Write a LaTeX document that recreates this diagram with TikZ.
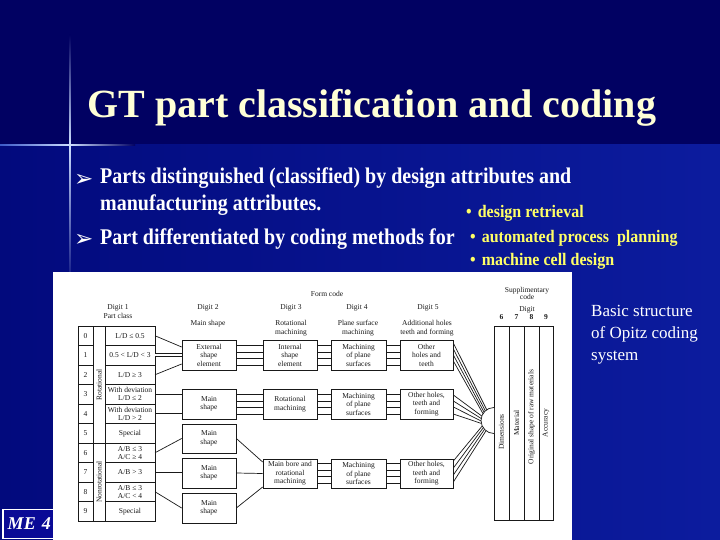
\documentclass[tikz,border=0pt]{standalone}
\usepackage{fontspec}
\setmainfont{Liberation Serif}
\newfontfamily\dejavu{DejaVu Sans}
\usetikzlibrary{calc}
\definecolor{bgtop}{RGB}{1,1,98}
\definecolor{bglowL}{RGB}{2,10,125}
\definecolor{bglowR}{RGB}{12,28,158}
\definecolor{cream}{RGB}{255,255,214}
\definecolor{ylw}{RGB}{255,255,102}
\definecolor{glow}{RGB}{205,222,255}
\definecolor{glowL}{RGB}{60,90,200}
\definecolor{ink}{RGB}{25,25,25}
\definecolor{mebox}{RGB}{10,10,150}
\tikzset{
 fig/.style={font=\fontsize{7.5}{8.5}\selectfont, text=ink, align=center, inner sep=0pt},
 fbox/.style={fig, draw=ink, line width=0.7pt, fill=white},
 ln/.style={draw=ink, line width=0.7pt},
 btext/.style={anchor=base west, text=white, font=\bfseries\fontsize{20}{24}\selectfont, inner sep=0pt},
 ytext/.style={anchor=base west, text=ylw, font=\bfseries\fontsize{16}{19}\selectfont, inner sep=0pt},
 ctext/.style={anchor=base west, text=white, font=\fontsize{17}{20}\selectfont, inner sep=0pt},
 arr/.style={anchor=base west, text=white, font=\dejavu\fontsize{23}{26}\selectfont, inner sep=0pt},
}
\newcommand\mconn[2]{\foreach \dy in {-10,-3,3,10}{\draw[ln] ($(#1.east)+(0,\dy)$) -- ($(#2.west)+(0,\dy)$);}}
\begin{document}
\begin{tikzpicture}[x=1pt,y=-1pt]
\useasboundingbox (0,0) rectangle (720,540);
% background
\fill[bgtop] (0,0) rectangle (720,145);
\shade[left color=bglowL, right color=bglowR] (0,145) rectangle (720,540);
\shade[top color=bgtop, bottom color=glow] (69.3,35) rectangle (70.7,145);
\shade[top color=glow, bottom color=bglowL] (69.3,145) rectangle (70.7,290);
\shade[left color=glowL, right color=glow] (0,144.3) rectangle (70,145.7);
\shade[left color=glow, right color=bgtop] (70,144.3) rectangle (135,145.7);
% title
\node[anchor=base west, text=cream, font=\bfseries\fontsize{40}{48}\selectfont, inner sep=0pt] (title) at (87,118) {GT part classification and coding};
% bullets
\node[arr] (a1) at (74,187) {➢};
\node[btext] (l1) at (100,184) {\scalebox{1}[1.12]{Parts distinguished (classified) by design attributes and}};
\node[btext] (l2) at (100,211) {\scalebox{1}[1.12]{manufacturing attributes.}};
\node[arr] (a2) at (74,247) {➢};
\node[btext] (l3) at (100,244) {\scalebox{1}[1.12]{Part differentiated by coding methods for}};
\node[ytext] (y1) at (466,218) {\scalebox{1}[1.1]{•\hspace{6pt}design retrieval}};
\node[ytext] (y2) at (470,242) {\scalebox{1}[1.1]{•\hspace{6pt}automated process\ \ planning}};
\node[ytext] (y3) at (470,265) {\scalebox{1}[1.1]{•\hspace{6pt}machine cell design}};
% caption
\node[ctext] (c1) at (591,316) {Basic structure};
\node[ctext] (c2) at (591,338) {of Opitz coding};
\node[ctext] (c3) at (591,360) {system};
% ME box
\node[draw=white, line width=1.5pt, fill=mebox, text=white, font=\bfseries\itshape\fontsize{18}{20}\selectfont, anchor=west, minimum height=29, text width=70, align=left, inner sep=5pt] (me) at (2,524) {ME 4};
% figure panel
\fill[white] (53,272) rectangle (572,541);
% headings
\node[fig] (fc) at (327,294) {Form code};
\node[fig] (d1) at (118,311.5) {Digit 1\\Part class};
\node[fig] (d2) at (208,308) {Digit 2};
\node[fig] (h2) at (208,324) {Main shape};
\node[fig] (d3) at (291,308) {Digit 3};
\node[fig] (h3) at (291,328) {Rotational\\machining};
\node[fig] (d4) at (357,308) {Digit 4};
\node[fig] (h4) at (358,328) {Plane surface\\machining};
\node[fig] (d5) at (428,308) {Digit 5};
\node[fig] (h5) at (427,328) {Additional holes\\teeth and forming};
% part class table
\draw[ln] (78,326) rectangle (155,521);
\draw[ln] (93,326) -- (93,521) (105,326) -- (105,521) (93,443) -- (105,443);
\foreach \i in {1,...,9}{
  \draw[ln] (78,326+19.5*\i) -- (93,326+19.5*\i) (105,326+19.5*\i) -- (155,326+19.5*\i);
}
\foreach \t [count=\j from 0] in {{L/D ≤ 0.5},{0.5 < L/D < 3},{L/D ≥ 3},{With deviation\\L/D ≤ 2},{With deviation\\L/D > 2},{Special},{A/B ≤ 3\\A/C ≥ 4},{A/B > 3},{A/B ≤ 3\\A/C < 4},{Special}}{
  \node[fig, font=\fontsize{7.5}{8}\selectfont] (n\j) at (85.5,335.75+19.5*\j) {\j};
  \node[fig, font=\fontsize{7.5}{8}\selectfont] (t\j) at (130,335.75+19.5*\j) {\t};
  \coordinate (r\j) at (155,335.75+19.5*\j);
}
\node[fig, rotate=90] (rot) at (99,385) {Rotational};
\node[fig, rotate=90] (nonrot) at (99,482) {Nonrotational};
% digit 2 boxes
\node[fbox, minimum width=54, minimum height=30] (b2a) at (209,355) {External\\shape\\element};
\node[fbox, minimum width=54, minimum height=30] (b2b) at (209,404) {Main\\shape};
\node[fbox, minimum width=54, minimum height=29] (b2c) at (209,438.5) {Main\\shape};
\node[fbox, minimum width=54, minimum height=30] (b2d) at (209,473) {Main\\shape};
\node[fbox, minimum width=54, minimum height=30] (b2e) at (209,508) {Main\\shape};
% digit 3 boxes
\node[fbox, minimum width=54, minimum height=30] (b3a) at (290,355) {Internal\\shape\\element};
\node[fbox, minimum width=54, minimum height=30] (b3b) at (290,404) {Rotational\\machining};
\node[fbox, minimum width=54, minimum height=29] (b3c) at (290,473.5) {Main bore and\\rotational\\machining};
% digit 4 boxes
\node[fbox, minimum width=55, minimum height=30] (b4a) at (358.5,355) {Machining\\of plane\\surfaces};
\node[fbox, minimum width=55, minimum height=30] (b4b) at (358.5,404) {Machining\\of plane\\surfaces};
\node[fbox, minimum width=55, minimum height=29] (b4c) at (358.5,473.5) {Machining\\of plane\\surfaces};
% digit 5 boxes
\node[fbox, minimum width=53, minimum height=30] (b5a) at (426.5,355) {Other\\holes and\\teeth};
\node[fbox, minimum width=53, minimum height=30] (b5b) at (426.5,404) {Other holes,\\teeth and\\forming};
\node[fbox, minimum width=53, minimum height=29] (b5c) at (426.5,473.5) {Other holes,\\teeth and\\forming};
% table -> digit 2
\draw[ln] (r0) -- ($(b2a.west)+(0,-8)$);
\draw[ln, double=white, double distance=2.4pt] (r1) -- (r1 -| b2a.west);
\draw[ln] (r2) -- ($(b2a.west)+(0,9)$);
\draw[ln] (r3) -- (r3 -| b2b.west);
\draw[ln] (r4) -- (r4 -| b2b.west);
\draw[ln] (r6) -- (b2c.west);
\draw[ln] (r7) -- (r7 -| b2d.west);
\draw[ln] (r8) -- (b2e.west);
% digit 2 -> 3
\mconn{b2a}{b3a}
\mconn{b2b}{b3b}
\draw[ln] (b2c.east) -- ($(b3c.west)+(0,-11.5)$);
\draw[ln] (b2d.east) -- (b3c.west);
\draw[ln] (b2e.east) -- ($(b3c.west)+(0,13.5)$);
% digit 3 -> 4 -> 5
\mconn{b3a}{b4a}
\mconn{b3b}{b4b}
\mconn{b3c}{b4c}
\mconn{b4a}{b5a}
\mconn{b4b}{b5b}
\mconn{b4c}{b5c}
% supplementary code
\coordinate (sc) at (494,420.5);
\draw[ln] (494,326) rectangle (553,520);
\draw[ln] (509,326) -- (509,520) (524,326) -- (524,520) (539,326) -- (539,520);
\draw[ln, fill=white] ($(sc)+(0,-13)$) arc[start angle=270, end angle=90, radius=13];
\foreach \s/\a in {-12/236,-6/228,0/220,6/212}{\draw[ln] ($(b5a.east)+(0,\s)$) -- ($(sc)+(\a:13)$);}
\foreach \s/\a in {-9/200,-3/189,3/178,10/167}{\draw[ln] ($(b5b.east)+(0,\s)$) -- ($(sc)+(\a:13)$);}
\foreach \s/\a in {-12.5/155,-5.5/146,1.5/137,8.5/128}{\draw[ln] ($(b5c.east)+(0,\s)$) -- ($(sc)+(\a:13)$);}
\node[fig, font=\fontsize{7.5}{7.5}\selectfont] (sup) at (527,293.5) {Supplimentary\\code};
\node[fig] (dg) at (527,309.5) {Digit};
\node[fig, font=\bfseries\fontsize{7.5}{8}\selectfont] (s6) at (501.5,317) {6};
\node[fig, font=\bfseries\fontsize{7.5}{8}\selectfont] (s7) at (516.5,317) {7};
\node[fig, font=\bfseries\fontsize{7.5}{8}\selectfont] (s8) at (531.5,317) {8};
\node[fig, font=\bfseries\fontsize{7.5}{8}\selectfont] (s9) at (546,317) {9};
\node[fig, rotate=90] (v6) at (501.5,432) {Dimensions};
\node[fig, rotate=90] (v7) at (516.5,423) {Material};
\node[fig, rotate=90] (v8) at (531.5,417) {Original shape of raw materials};
\node[fig, rotate=90] (v9) at (546,423) {Accuracy};
\end{tikzpicture}
\end{document}
